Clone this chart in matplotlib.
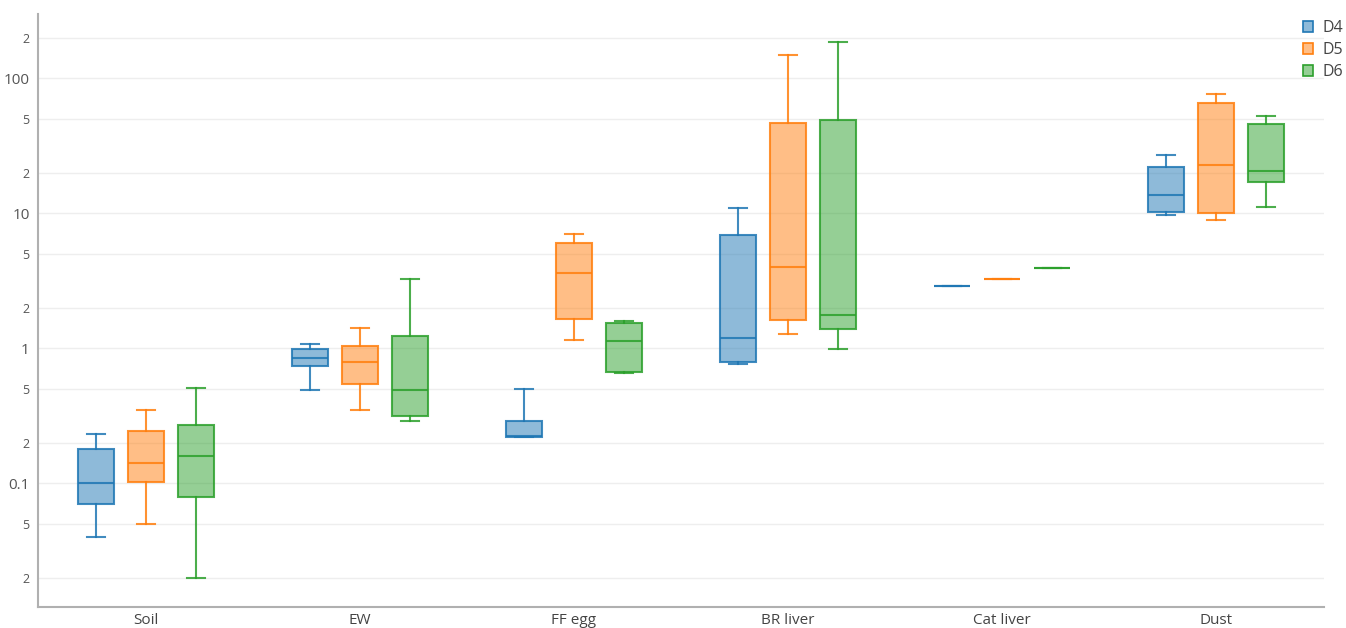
import matplotlib
matplotlib.use("Agg")
import matplotlib.pyplot as plt
from matplotlib.patches import Patch
from matplotlib.colors import to_rgba

categories = ["Soil", "EW", "FF egg", "BR liver", "Cat liver", "Dust"]
series_names = ["D4", "D5", "D6"]
series_colors = ["#1f77b4", "#ff7f0e", "#2ca02c"]

# five-number summaries per category: [whisker low, q1, median, q3, whisker high]
d4_stats = [
    [0.040, 0.070, 0.100, 0.178, 0.230],
    [0.49, 0.74, 0.85, 0.98, 1.07],
    [0.220, 0.220, 0.223, 0.290, 0.50],
    [0.765, 0.786, 1.19, 6.94, 11.0],
    [2.87, 2.87, 2.87, 2.87, 2.87],
    [9.76, 10.15, 13.7, 22.0, 26.9],
]
d5_stats = [
    [0.050, 0.102, 0.141, 0.245, 0.350],
    [0.350, 0.546, 0.795, 1.045, 1.415],
    [1.15, 1.66, 3.60, 5.98, 7.0],
    [1.28, 1.62, 3.97, 46.5, 150.0],
    [3.25, 3.25, 3.25, 3.25, 3.25],
    [8.96, 10.0, 22.7, 65.8, 76.7],
]
d6_stats = [
    [0.020, 0.0795, 0.160, 0.270, 0.510],
    [0.290, 0.314, 0.493, 1.225, 3.27],
    [0.651, 0.667, 1.14, 1.55, 1.58],
    [0.98, 1.40, 1.75, 49.5, 187.0],
    [3.95, 3.95, 3.95, 3.95, 3.95],
    [11.1, 17.2, 20.5, 45.9, 52.7],
]
all_stats = [d4_stats, d5_stats, d6_stats]

y_ticks = [0.02, 0.05, 0.1, 0.2, 0.5, 1, 2, 5, 10, 20, 50, 100, 200]
y_tick_labels = ["2", "5", "0.1", "2", "5", "1", "2", "5", "10", "2", "5", "100", "2"]
major_ticks = [0.1, 1, 10, 100]

plt.rcParams["font.family"] = ["Open Sans", "DejaVu Sans"]

fig = plt.figure(figsize=(13.46, 6.28), dpi=100)
ax = fig.add_axes([38 / 1346, 1 - 607 / 628, (1324 - 38) / 1346, (607 - 14) / 628])

offsets = [-0.234, 0.0, 0.234]
width = 0.168

for s_idx, (stats, color) in enumerate(zip(all_stats, series_colors)):
    bxp_stats = []
    for lo, q1, med, q3, hi in stats:
        bxp_stats.append(dict(whislo=lo, q1=q1, med=med, q3=q3, whishi=hi, fliers=[]))
    positions = [i + offsets[s_idx] for i in range(len(categories))]
    line_c = to_rgba(color, 0.85)
    ax.bxp(
        bxp_stats,
        positions=positions,
        widths=width,
        patch_artist=True,
        showfliers=False,
        boxprops=dict(facecolor=to_rgba(color, 0.5), edgecolor=line_c, linewidth=1.5),
        medianprops=dict(color=line_c, linewidth=1.5),
        whiskerprops=dict(color=line_c, linewidth=1.5),
        capprops=dict(color=line_c, linewidth=1.5),
        capwidths=width / 2,
        manage_ticks=False,
        zorder=3,
    )

ax.set_yscale("log")
ax.set_ylim(0.0121, 300)
ax.set_xlim(-0.505, 5.505)

ax.set_yticks(y_ticks)
ax.set_yticklabels(y_tick_labels)
ax.yaxis.set_minor_locator(matplotlib.ticker.NullLocator())
for lbl, val in zip(ax.get_yticklabels(), y_ticks):
    lbl.set_fontsize(11 if val in major_ticks else 9)
    lbl.set_color("#555555")
ax.tick_params(axis="y", length=0, pad=6)

ax.set_xticks(range(len(categories)))
ax.set_xticklabels(categories, fontsize=11, color="#444444")
ax.tick_params(axis="x", length=0, pad=4)

ax.grid(axis="y", color="#eeeeee", linewidth=1.0, zorder=0)
ax.set_axisbelow(True)

for side in ["top", "right"]:
    ax.spines[side].set_visible(False)
for side in ["left", "bottom"]:
    ax.spines[side].set_color("#b0b0b0")
    ax.spines[side].set_linewidth(1.5)

handles = [Patch(facecolor=to_rgba(c, 0.5), edgecolor=c, linewidth=1.2, label=n)
           for n, c in zip(series_names, series_colors)]
fig.legend(handles=handles, loc="upper left", bbox_to_anchor=(1303 / 1346, 1 - 20 / 628),
           frameon=False, fontsize=11.5, handlelength=0.65, handleheight=0.65,
           handletextpad=0.6, labelspacing=0.38, borderaxespad=0, borderpad=0,
           labelcolor="#444444")

fig.savefig("out.png", dpi=100)
